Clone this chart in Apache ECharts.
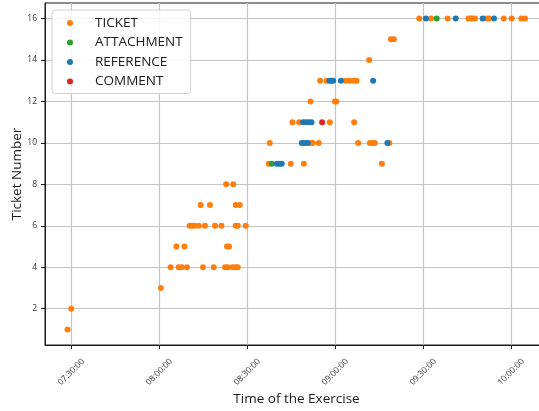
<!DOCTYPE html>
<html>
<head>
<meta charset="utf-8">
<script src="https://cdn.jsdelivr.net/npm/echarts@6/dist/echarts.min.js"></script>
<style>
  html, body { margin: 0; padding: 0; background: #fff; }
  #chart { width: 539px; height: 411px; }
</style>
</head>
<body>
<div id="chart"></div>
<script>
// Event log of the exercise: [time of day, ticket number]
const ticketPoints = [
  ["07:28:44", 1], ["07:30:00", 2], ["08:00:35", 3],
  ["08:03:54", 4], ["08:06:38", 4], ["08:07:40", 4], ["08:09:28", 4], ["08:14:56", 4],
  ["08:18:35", 4], ["08:22:27", 4], ["08:23:22", 4], ["08:25:04", 4], ["08:26:06", 4], ["08:26:47", 4],
  ["08:05:51", 5], ["08:08:35", 5], ["08:23:07", 5], ["08:23:48", 5],
  ["08:10:23", 6], ["08:11:19", 6], ["08:12:06", 6], ["08:13:32", 6], ["08:15:37", 6],
  ["08:19:02", 6], ["08:21:13", 6], ["08:26:06", 6], ["08:26:47", 6], ["08:29:31", 6],
  ["08:14:09", 7], ["08:17:19", 7], ["08:26:06", 7], ["08:27:28", 7],
  ["08:22:51", 8], ["08:25:15", 8],
  ["08:37:22", 9], ["08:44:52", 9], ["08:49:19", 9], ["09:15:57", 9],
  ["08:37:42", 10], ["08:51:42", 10], ["08:52:23", 10], ["08:54:26", 10], ["09:07:51", 10],
  ["09:11:51", 10], ["09:12:52", 10], ["09:13:33", 10], ["09:18:30", 10],
  ["08:45:27", 11], ["08:47:42", 11], ["08:58:11", 11], ["09:06:29", 11],
  ["08:51:36", 12], ["08:59:56", 12], ["09:00:24", 12],
  ["08:54:53", 13], ["08:57:04", 13], ["09:03:33", 13], ["09:05:01", 13], ["09:06:23", 13], ["09:07:18", 13],
  ["09:11:36", 14],
  ["09:19:01", 15], ["09:20:02", 15],
  ["09:28:41", 16], ["09:32:40", 16], ["09:38:22", 16], ["09:45:28", 16], ["09:46:09", 16],
  ["09:46:50", 16], ["09:47:42", 16], ["09:51:33", 16], ["09:52:28", 16], ["09:57:30", 16],
  ["10:00:13", 16], ["10:03:30", 16], ["10:04:46", 16]
];
const attachmentPoints = [
  ["08:38:23", 9], ["09:34:37", 16]
];
const referencePoints = [
  ["08:40:06", 9], ["08:40:57", 9], ["08:41:48", 9],
  ["08:48:38", 10], ["08:49:39", 10], ["08:50:41", 10], ["09:17:49", 10],
  ["08:49:04", 11], ["08:50:00", 11], ["08:51:01", 11], ["08:51:56", 11],
  ["08:58:05", 13], ["08:58:46", 13], ["08:59:19", 13], ["09:01:57", 13], ["09:12:58", 13],
  ["09:30:58", 16], ["09:41:06", 16], ["09:50:19", 16], ["09:54:11", 16]
];
const commentPoints = [
  ["08:55:34", 11]
];

const seriesNames = ["TICKET", "ATTACHMENT", "REFERENCE", "COMMENT"];
const seriesColors = ["#ff7f0e", "#2ca02c", "#1f77b4", "#d62728"];

const xTickLabels = ["07:30:00", "08:00:00", "08:30:00", "09:00:00", "09:30:00", "10:00:00"];
const yTickLabels = [2, 4, 6, 8, 10, 12, 14, 16];
const xRange = ["07:21:03", "10:12:36"];
const yRange = [0.25, 16.75];

function toSeconds(hms) {
  const p = hms.split(":").map(Number);
  return p[0] * 3600 + p[1] * 60 + p[2];
}
function toHms(sec) {
  const s = Math.round(sec);
  const pad = n => String(n).padStart(2, "0");
  return pad(Math.floor(s / 3600)) + ":" + pad(Math.floor(s / 60) % 60) + ":" + pad(s % 60);
}
const asData = pts => pts.map(p => [toSeconds(p[0]), p[1]]);

const FONT = "Open Sans";
const allPoints = [ticketPoints, attachmentPoints, referencePoints, commentPoints];
const xTicks = xTickLabels.map(toSeconds);

const chart = echarts.init(document.getElementById("chart"), null, { renderer: "canvas" });
chart.setOption({
  animation: false,
  backgroundColor: "#ffffff",
  textStyle: { fontFamily: FONT },
  grid: {
    left: 45, right: -9, top: 3, bottom: 66,
    containLabel: false, outerBoundsMode: "none",
    show: true, borderColor: "#1a1a1a", borderWidth: 1, backgroundColor: "transparent"
  },
  legend: {
    orient: "vertical",
    left: 52, top: 10,
    padding: [5, 8, 4, 15],
    itemWidth: 6, itemHeight: 6, itemGap: 3.5,
    backgroundColor: "rgba(255,255,255,0.85)",
    borderColor: "#d0d0d0", borderWidth: 1, borderRadius: 3,
    textStyle: { fontFamily: FONT, fontSize: 13.5, color: "#1a1a1a", padding: [0, 0, 0, 17], lineHeight: 16 },
    data: seriesNames.map(n => ({ name: n, icon: "circle" }))
  },
  xAxis: {
    type: "value",
    min: toSeconds(xRange[0]), max: toSeconds(xRange[1]),
    name: "Time of the Exercise",
    nameLocation: "middle", nameGap: 47, nameMoveOverlap: false,
    nameTextStyle: { fontFamily: FONT, fontSize: 13.5, color: "#1a1a1a" },
    axisLine: { lineStyle: { color: "#1a1a1a", width: 1 } },
    axisTick: { show: true, length: 4, customValues: xTicks, lineStyle: { color: "#1a1a1a" } },
    axisLabel: {
      customValues: xTicks, formatter: v => toHms(v),
      rotate: 45, align: "center", verticalAlign: "middle", margin: 27,
      fontFamily: FONT, fontSize: 8.5, color: "#333"
    },
    splitLine: { show: true, lineStyle: { color: "#c4c4c4", width: 1.2 } }
  },
  yAxis: {
    type: "value",
    min: yRange[0], max: yRange[1],
    name: "Ticket Number",
    nameLocation: "middle", nameGap: 21, nameMoveOverlap: false,
    nameTextStyle: { fontFamily: FONT, fontSize: 13.5, color: "#1a1a1a" },
    axisLine: { show: true, lineStyle: { color: "#1a1a1a", width: 1 } },
    axisTick: { show: true, length: 4, customValues: yTickLabels, lineStyle: { color: "#1a1a1a" } },
    axisLabel: { customValues: yTickLabels, margin: 8, fontFamily: FONT, fontSize: 8.5, color: "#333" },
    splitLine: { show: true, lineStyle: { color: "#c4c4c4", width: 1.2 } }
  },
  series: seriesNames.map((name, i) => ({
    name: name,
    type: "scatter",
    symbol: "circle",
    symbolSize: 6,
    itemStyle: { color: seriesColors[i], opacity: 1 },
    data: asData(allPoints[i])
  }))
});
</script>
</body>
</html>
